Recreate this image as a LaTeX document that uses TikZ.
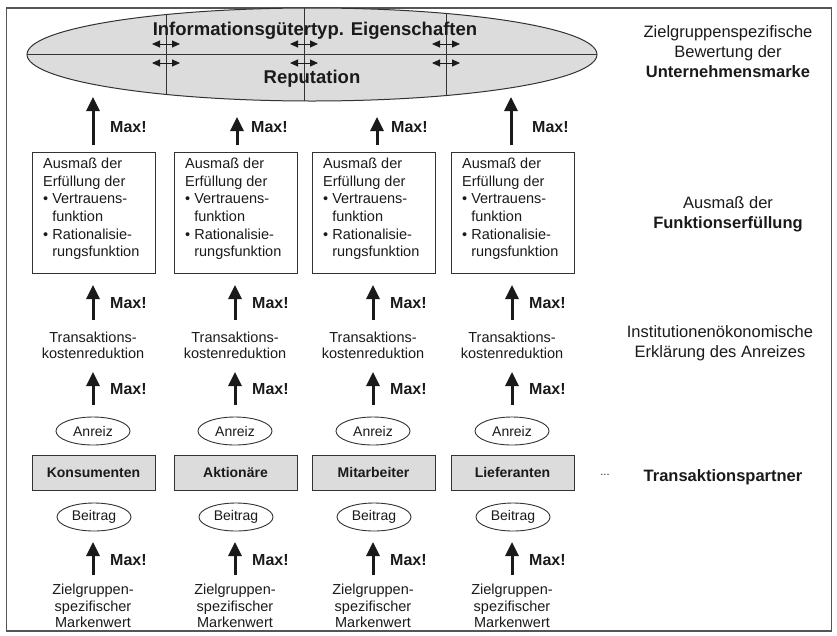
\documentclass[tikz,border=0pt]{standalone}
\usepackage{fontspec}
\setmainfont{Liberation Sans}
\usetikzlibrary{arrows.meta,shapes.geometric}
\definecolor{txt}{HTML}{1A1A1A}
\definecolor{lin}{HTML}{333333}
\definecolor{grayfill}{HTML}{DCDCDC}
\definecolor{framec}{HTML}{555555}
\begin{document}
\begin{tikzpicture}[x=1pt,y=-1pt,
  every node/.style={text=txt},
  maxarrow/.style={line width=3pt, draw=txt, -{Triangle[width=13pt,length=14pt]}},
  maxlabel/.style={font=\fontsize{16}{18}\selectfont\bfseries, anchor=west, inner sep=0pt},
  dbl/.style={line width=1pt, draw=txt, {Triangle[width=7pt,length=8pt]}-{Triangle[width=7pt,length=8pt]}},
  fbox/.style={draw=lin, line width=0.9pt, minimum width=123pt, minimum height=121pt, inner sep=0pt},
  ftext/.style={font=\fontsize{14.5}{17.6}\selectfont, align=left, anchor=west, inner sep=0pt},
  ctext/.style={font=\fontsize{14.5}{16.2}\selectfont, align=center, inner sep=0pt},
  pbox/.style={draw=lin, fill=grayfill, line width=0.9pt, minimum width=123pt, minimum height=35pt, font=\fontsize{14}{16}\selectfont\bfseries, inner sep=0pt},
  oval/.style={ellipse, draw=lin, line width=0.9pt, minimum width=74pt, minimum height=28pt, inner sep=0pt, font=\fontsize{14}{16}\selectfont},
  side/.style={font=\fontsize{16.5}{20}\selectfont, align=center, inner sep=0pt}
]
\useasboundingbox (0,0) rectangle (837,635);
\draw[framec, line width=1.5pt] (6.5,8) rectangle (831.5,631);

% top ellipse
\node[ellipse, draw=lin, fill=grayfill, line width=1pt, minimum width=570pt, minimum height=93pt, inner sep=0pt] (rep) at (312,54.5) {};
\begin{scope}
  \clip (312,54.5) ellipse [x radius=285pt, y radius=46.5pt];
  \draw[lin, line width=0.8pt] (rep.west) -- (rep.east);
  \foreach \vx in {166,304,446} {
    \draw[lin, line width=0.8pt] (\vx,0) -- (\vx,110);
  }
\end{scope}
\foreach \vx in {166,304,446} {
  \draw[dbl] (\vx-14,44) -- (\vx+14,44);
  \draw[dbl] (\vx-14,63) -- (\vx+14,63);
}
\node[font=\fontsize{18.5}{20}\selectfont\bfseries, inner sep=0pt] (info) at (315,31) {Informationsgütertyp. Eigenschaften};
\node[font=\fontsize{18.5}{20}\selectfont\bfseries, inner sep=0pt] (reput) at (312,79) {Reputation};

% top Max! arrows
\foreach \ax/\tip/\lx in {93/97/110, 237/117/251, 377/117/391, 511/97/532} {
  \draw[maxarrow] (\ax,145) -- (\ax,\tip);
  \node[maxlabel] at (\lx,127) {Max!};
}

% columns
\foreach \i/\cx/\pname in {1/93/Konsumenten, 2/235/Aktionäre, 3/373/Mitarbeiter, 4/512/Lieferanten} {
  \node[fbox] (f\i) at (\cx+0.5,212.5) {};
  \node[ftext] (ft\i) at (\cx-50,209) {Ausmaß der\\Erfüllung der\\\textbullet\ Vertrauens-\\\phantom{\textbullet\ }funktion\\\textbullet\ Rationalisie-\\\phantom{\textbullet\ }rungsfunktion};
  \draw[maxarrow] (\cx,320) -- (\cx,285);
  \node[maxlabel] at (\cx+17,303) {Max!};
  \node[ctext] (tk\i) at (\cx,345) {Transaktions-\\kostenreduktion};
  \draw[maxarrow] (\cx,405) -- (\cx,372);
  \node[maxlabel] at (\cx+17,389) {Max!};
  \node[oval] (an\i) at (\cx,431) {Anreiz};
  \node[pbox] (p\i) at (\cx+0.5,472.5) {\pname};
  \node[oval] (be\i) at (\cx+1,517) {Beitrag};
  \draw[maxarrow] (\cx,575) -- (\cx,542);
  \node[maxlabel] at (\cx+17,560) {Max!};
  \node[ctext] (zg\i) at (\cx,606) {Zielgruppen-\\spezifischer\\Markenwert};
}

% right side labels
\node[side] (s1) at (728,52) {Zielgruppenspezifische\\Bewertung der\\\textbf{Unternehmensmarke}};
\node[side] (s2) at (728,214) {Ausmaß der\\\textbf{Funktionserfüllung}};
\node[side] (s3) at (720,343) {Institutionenökonomische\\Erklärung des Anreizes};
\node[font=\fontsize{11}{12}\selectfont, inner sep=0pt] (dots) at (605,475) {...};
\node[side, font=\fontsize{16.5}{20}\selectfont\bfseries] (s4) at (723,477) {Transaktionspartner};
\end{tikzpicture}
\end{document}
